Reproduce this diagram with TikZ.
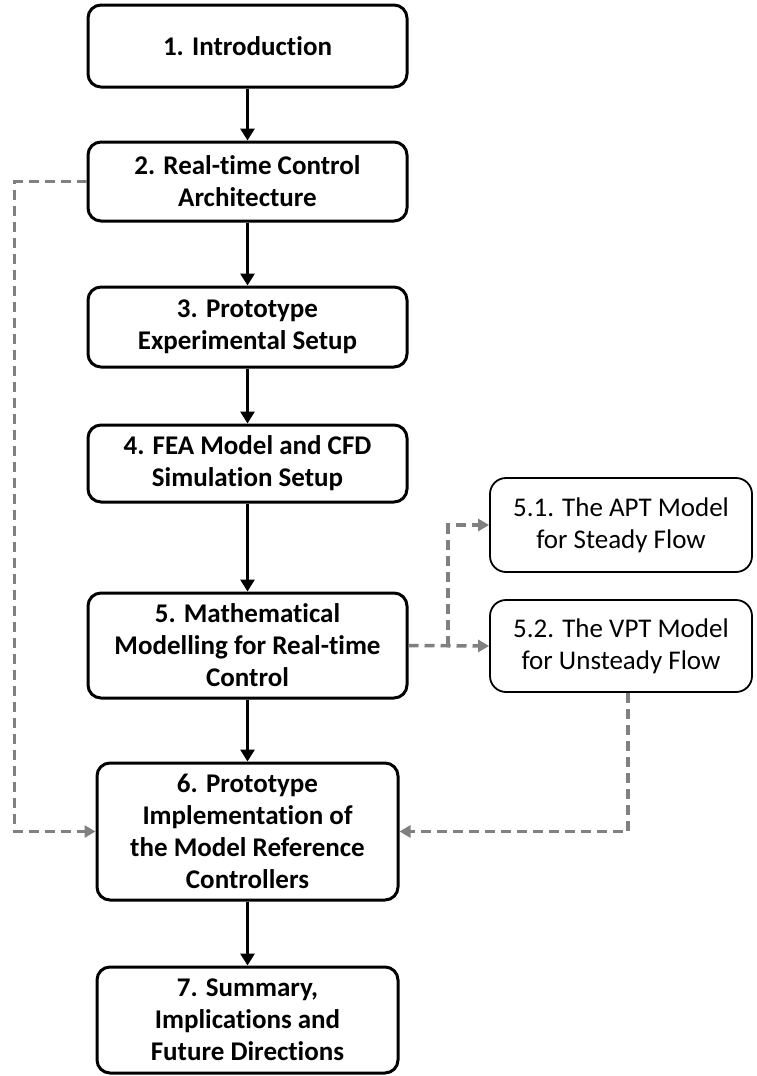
\documentclass[tikz,border=0pt]{standalone}
\usepackage{fontspec}
\setmainfont[Ligatures=NoCommon]{Carlito}
\usetikzlibrary{positioning,arrows.meta}
\tikzset{
	block/.style={
			draw,
			rounded corners=13pt,
			line width=3pt,
			align=center,
			minimum width=319pt,
			font=\fontsize{27}{32}\selectfont\bfseries
		},
	subblock/.style={
			draw,
			rounded corners=16pt,
			line width=1.8pt,
			align=center,
			minimum width=262pt,
			font=\fontsize{27}{32}\selectfont
		},
	flow/.style={-{Stealth[inset=0pt,length=12pt,width=14pt]}, line width=3pt},
	dashflow/.style={-{Stealth[inset=0pt,length=11pt,width=12pt]}, line width=3.5pt,
			gray, dash pattern=on 10pt off 6pt}
}

\begin{document}
\begin{tikzpicture}[x=1pt,y=-1pt]
		\useasboundingbox (0,0) rectangle (757,1076);

		% Chapters
		\node[block, minimum height=82pt] (intro) at (247.5,46) {1. Introduction};

		\node[block, minimum height=79pt, below=52pt of intro] (arch)
		{2. Real-time Control\\Architecture};

		\node[block, minimum height=80pt, below=63pt of arch] (proto)
		{3. Prototype\\Experimental Setup};

		\node[block, minimum height=77pt, below=55pt of proto] (fea)
		{4. FEA Model and CFD\\Simulation Setup};

		\node[block, minimum height=105pt, below=88pt of fea] (math)
		{5. Mathematical\\Modelling for Real-time\\Control};

		\node[block, minimum height=137pt, minimum width=301pt, below=62pt of math] (impl)
		{6. Prototype\\Implementation of\\the Model Reference\\Controllers};

		\node[block, minimum height=106pt, minimum width=301pt, below=64pt of impl] (summ)
		{7. Summary,\\Implications and\\Future Directions};

		% Sub-sections
		\node[subblock, minimum height=94pt] (apt) at (621,525)
		{5.1. The APT Model\\for Steady Flow};

		\node[subblock, minimum height=92pt] (vpt) at (621,646)
		{5.2. The VPT Model\\for Unsteady Flow};

		% Main flow
		\draw[flow] (intro.south) -- (arch.north);
		\draw[flow] (arch.south) -- (proto.north);
		\draw[flow] (proto.south) -- (fea.north);
		\draw[flow] (fea.south) -- (math.north);
		\draw[flow] (math.south) -- (impl.north);
		\draw[flow] (impl.south) -- (summ.north);

		% Dashed links
		\coordinate (split) at (448,645.5);
		\draw[dashflow] (arch.west) -- ++(-72,0) |- (impl.west);
		\draw[dashflow] (math.east) -- (vpt.west);
		\draw[dashflow] (split) |- (apt.west);
		\draw[dashflow] ([xshift=7pt]vpt.south) |- (impl.east);
	\end{tikzpicture}
\end{document}
